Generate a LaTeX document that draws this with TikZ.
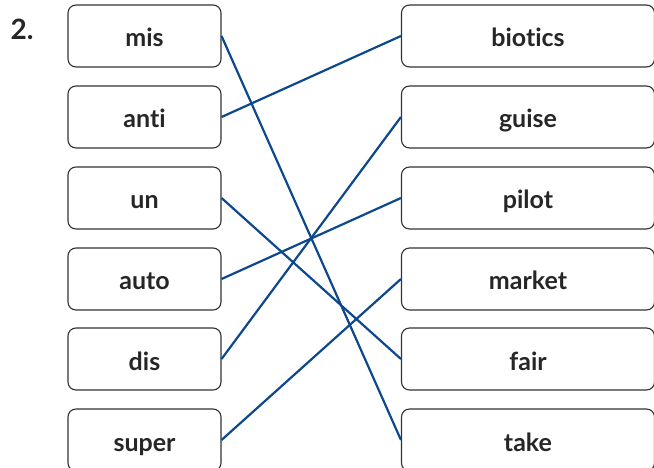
\documentclass[tikz,border=0pt]{standalone}
\usepackage{fontspec}
\setmainfont{Lato}[Ligatures={NoCommon,NoRare,NoDiscretionary}]
\begin{document}
\begin{tikzpicture}[x=1pt,y=-1pt,
  wordbox/.style={draw=black!80, line width=1.1pt, rounded corners=8pt,
    minimum height=62pt, inner sep=0pt, text height=22pt, text depth=0pt,
    font=\fontsize{25}{28}\selectfont\bfseries, text=black!85},
  leftbox/.style={wordbox, minimum width=153pt},
  rightbox/.style={wordbox, minimum width=253pt},
  link/.style={color={rgb,255:red,14;green,72;blue,140}, line width=2.2pt}]
\useasboundingbox (0,0) rectangle (654,468);
\node[font=\fontsize{28}{30}\selectfont\bfseries, text=black!85] (num) at (22,29) {2.};
% prefixes
\node[leftbox] (mis)   at (144.5,36)  {mis};
\node[leftbox] (anti)  at (144.5,117) {anti};
\node[leftbox] (un)    at (144.5,198) {un};
\node[leftbox] (auto)  at (144.5,279) {auto};
\node[leftbox] (dis)   at (144.5,359) {dis};
\node[leftbox] (super) at (144.5,440) {super};
% word endings
\node[rightbox] (biotics) at (528,36)  {biotics};
\node[rightbox] (guise)   at (528,117) {guise};
\node[rightbox] (pilot)   at (528,198) {pilot};
\node[rightbox] (market)  at (528,279) {market};
\node[rightbox] (fair)    at (528,359) {fair};
\node[rightbox] (take)    at (528,440) {take};
% matching lines
\draw[link] (mis.east)   -- (take.west);
\draw[link] (anti.east)  -- (biotics.west);
\draw[link] (un.east)    -- (fair.west);
\draw[link] (auto.east)  -- (pilot.west);
\draw[link] (dis.east)   -- (guise.west);
\draw[link] (super.east) -- (market.west);
\end{tikzpicture}
\end{document}
